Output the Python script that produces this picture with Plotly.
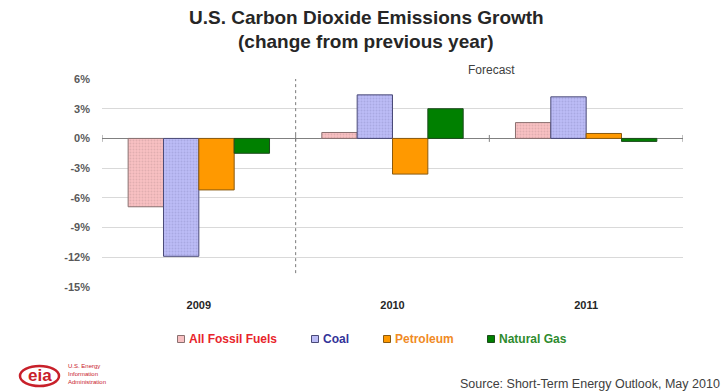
import plotly.graph_objects as go

# Annual change in U.S. CO2 emissions, percent
years = ["2009", "2010", "2011"]
all_fossil = [-6.9, 0.6, 1.6]
coal = [-11.9, 4.4, 4.2]
petroleum = [-5.2, -3.6, 0.5]
natural_gas = [-1.5, 3.0, -0.3]

y_ticks = [6, 3, 0, -3, -6, -9, -12, -15]
y_tick_text = ["6%", "3%", "0%", "-3%", "-6%", "-9%", "-12%", "-15%"]

FONT = "Liberation Sans, Arial, sans-serif"
W, H = 728, 391
ML, MR, MT, MB = 102, 45, 79, 104


def px(xp):
    """Figure pixel x -> paper fraction."""
    return (xp - ML) / (W - ML - MR)


def py(yp):
    """Figure pixel y (from top) -> paper fraction."""
    return (H - MB - yp) / (H - MT - MB)


series = [
    # name, values, fill, outline, pattern dots, legend text colour
    ("All Fossil Fuels", all_fossil, "#f8c0c2", "#8a7070", "rgba(120,90,90,0.35)", "#e8242c"),
    ("Coal", coal, "#bcbcf6", "#4a4a78", "rgba(80,80,130,0.35)", "#333399"),
    ("Petroleum", petroleum, "#ff9900", "#8a5a10", None, "#f08a24"),
    ("Natural Gas", natural_gas, "#008000", "#1d4a1d", None, "#2e8b2e"),
]

fig = go.Figure()
for name, vals, fill, edge, dots, txt in series:
    marker = dict(color=fill, line=dict(color=edge, width=1))
    if dots:
        marker["pattern"] = dict(shape=".", fgcolor=dots, bgcolor=fill,
                                 size=3, solidity=0.3, fillmode="overlay")
    fig.add_trace(go.Bar(x=years, y=vals, marker=marker, name=name, showlegend=False))

# legend row: small swatch followed by coloured bold label
legend_swatch_x = [181, 315, 387, 491]
legend_y = 339
for (name, vals, fill, edge, dots, txt), sx in zip(series, legend_swatch_x):
    fig.add_shape(type="rect", xref="paper", yref="paper",
                  x0=px(sx - 3.5), x1=px(sx + 3.5), y0=py(legend_y + 3.5), y1=py(legend_y - 3.5),
                  fillcolor=fill, line=dict(color=edge, width=1))
    fig.add_annotation(text=f"<b>{name}</b>", xref="paper", yref="paper",
                       x=px(sx + 6), y=py(legend_y), xanchor="left", yanchor="middle",
                       showarrow=False, font=dict(family=FONT, size=12, color=txt))

# category boundary ticks across the zero line
for xb in [-0.5, 0.5, 1.5, 2.5]:
    fig.add_shape(type="line", xref="x", yref="y", x0=xb, x1=xb, y0=-0.35, y1=0.35,
                  line=dict(color="#808080", width=1))
# dotted separator between actuals and forecast
fig.add_shape(type="line", xref="x", yref="y", x0=0.5, x1=0.5, y0=-13.6, y1=6,
              line=dict(color="#7a7a7a", width=1, dash="dot"))

for text, yp in [("<b>U.S. Carbon Dioxide Emissions Growth</b>", 18),
                 ("<b>(change from previous year)</b>", 42)]:
    fig.add_annotation(text=text, xref="paper", yref="paper", x=px(366), y=py(yp),
                       xanchor="center", yanchor="middle", showarrow=False,
                       font=dict(family=FONT, size=19, color="#262626"))

fig.add_annotation(text="Forecast", xref="x", yref="paper", x=1.51, y=py(70),
                   xanchor="center", yanchor="middle", showarrow=False,
                   font=dict(family=FONT, size=12, color="#404040"))

fig.add_annotation(text="Source: Short-Term Energy Outlook, May 2010", xref="paper", yref="paper",
                   x=px(722), y=py(384), xanchor="right", yanchor="middle",
                   showarrow=False, font=dict(family=FONT, size=12.5, color="#404040"))

# EIA logo
fig.add_shape(type="circle", xref="paper", yref="paper",
              x0=px(20), x1=px(59), y0=py(386), y1=py(366),
              line=dict(color="#c8202a", width=2.5), fillcolor="rgba(0,0,0,0)")
fig.add_annotation(text="<b>eia</b>", xref="paper", yref="paper",
                   x=px(39.5), y=py(375.5), xanchor="center", yanchor="middle",
                   showarrow=False, font=dict(family=FONT, size=17, color="#c8202a"))
fig.add_annotation(text="U.S. Energy<br>Information<br>Administration", xref="paper", yref="paper",
                   x=px(66), y=py(374), xanchor="left", yanchor="middle", align="left",
                   showarrow=False, font=dict(family=FONT, size=6, color="#c8202a"))

fig.update_layout(
    width=W, height=H, autosize=False,
    margin=dict(l=ML, r=MR, t=MT, b=MB),
    paper_bgcolor="#ffffff", plot_bgcolor="#ffffff",
    barmode="group", bargap=0.27, bargroupgap=0,
    font=dict(family=FONT, size=11, color="#595959"),
    showlegend=False,
    xaxis=dict(type="category", showgrid=False, showline=False, ticks="",
               tickfont=dict(family=FONT, size=11, color="#262626"),
               ticklabelstandoff=10,
               tickprefix="<b>", ticksuffix="</b>", range=[-0.5, 2.5]),
    yaxis=dict(range=[-15, 6], tickvals=y_ticks, ticktext=[f"<b>{t}</b>" for t in y_tick_text],
               showgrid=True, gridcolor="#d9d9d9", gridwidth=1,
               zeroline=True, zerolinecolor="#808080", zerolinewidth=1,
               showline=False, ticks="", ticklabelstandoff=11,
               tickfont=dict(family=FONT, size=11, color="#595959")),
)

fig.write_html("out.html")
